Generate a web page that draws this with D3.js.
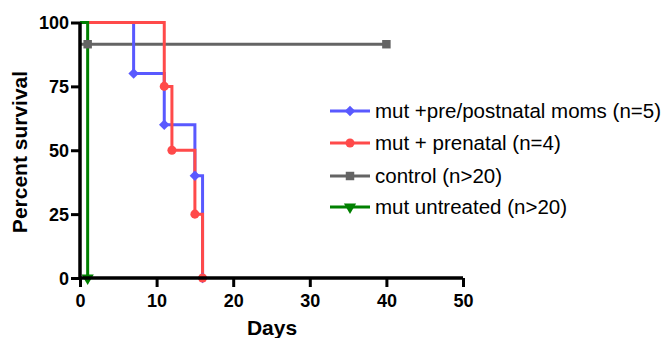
<!DOCTYPE html>
<html lang="en"><head>
<meta charset="utf-8">
<title>Percent survival</title>
<script src="https://cdnjs.cloudflare.com/ajax/libs/d3/7.8.5/d3.min.js"></script>
<style>
  body { margin: 0; background: #fff; }
  text { font-family: "Liberation Sans", Arial, sans-serif; }
  .axis text { font-weight: bold; font-size: 18px; fill: #000; }
</style>
</head>
<body>
<svg id="chart" width="665" height="338"></svg>
<script>
// survival curves: day of each step and the percent surviving after it
const seriesNames = ["mut +pre/postnatal moms (n=5)", "mut + prenatal (n=4)", "control (n>20)", "mut untreated (n>20)"]
const prePostDays = [0, 7, 11, 15, 16]
const prePostSurv = [100, 80, 60, 40, 0]
const prenatalDays = [0, 11, 12, 15, 16]
const prenatalSurv = [100, 75, 50, 25, 0]
const controlDays = [0, 1, 40]
const controlSurv = [91.5, 91.5, 91.5]
const untreatedDays = [0, 1]
const untreatedSurv = [100, 0]
const xTicks = [0, 10, 20, 30, 40, 50]
const yTicks = [0, 25, 50, 75, 100]

const colors = ["#5959ff", "#ff4a4a", "#646464", "#008000"]
// diamond is a square turned 45 degrees, triangle is turned upside down
const symbols = [d3.symbolSquare, d3.symbolCircle, d3.symbolSquare, d3.symbolTriangle]
const turns = [45, 0, 0, 180]
const markerSize = [55, 64, 72, 65]

const series = [
  {days: prePostDays, surv: prePostSurv},
  {days: prenatalDays, surv: prenatalSurv},
  {days: controlDays, surv: controlSurv},
  {days: untreatedDays, surv: untreatedSurv}
].map((s, i) => ({
  name: seriesNames[i],
  color: colors[i],
  symbol: symbols[i],
  pts: s.days.map((d, j) => ({day: d, surv: s.surv[j]}))
}))

const svg = d3.select("#chart")
const scales = {
  x: d3.scaleLinear().domain([0, 50]).range([80, 463]),
  y: d3.scaleLinear().domain([0, 100]).range([278, 22.5])
}

// draw order: control and untreated underneath the two treated curves
const order = [2, 0, 1, 3]
const line = d3.line()
  .x(d => scales.x(d.day))
  .y(d => scales.y(d.surv))
  .curve(d3.curveStepAfter)

function markerPath(i) {
  return d3.symbol().type(symbols[i]).size(markerSize[i])()
}

order.forEach(i => {
  let s = series[i]
  svg.append("path")
    .attr("d", line(s.pts))
    .attr("fill", "none")
    .attr("stroke", s.color)
    .attr("stroke-width", 3)
})

order.forEach(i => {
  let s = series[i]
  svg.append("g")
    .selectAll("path")
    .data(s.pts.slice(1))
    .join("path")
    .attr("d", markerPath(i))
    .attr("transform", d => `translate(${scales.x(d.day)},${scales.y(d.surv)}) rotate(${turns[i]})`)
    .attr("fill", s.color)
})

// axes
let xAxis = svg.append("g")
  .attr("class", "axis")
  .attr("transform", "translate(0,278)")
  .call(d3.axisBottom(scales.x).tickValues(xTicks).tickSize(9).tickPadding(7))
let yAxis = svg.append("g")
  .attr("class", "axis")
  .attr("transform", "translate(80,0)")
  .call(d3.axisLeft(scales.y).tickValues(yTicks).tickSize(9).tickPadding(2))
svg.selectAll(".axis .domain").attr("stroke-width", 3.5).attr("stroke", "#000")
svg.selectAll(".axis .tick line").attr("stroke-width", 3).attr("stroke", "#000")
xAxis.select(".domain").attr("d", "M80,0H463")
yAxis.select(".domain").attr("d", "M0,278V22.5")
yAxis.selectAll(".tick text").attr("dy", "0.36em")

svg.append("text")
  .attr("x", 272).attr("y", 335)
  .attr("text-anchor", "middle")
  .attr("font-weight", "bold")
  .attr("font-size", 21)
  .text("Days")

svg.append("text")
  .attr("transform", "translate(27,152) rotate(-90)")
  .attr("text-anchor", "middle")
  .attr("font-weight", "bold")
  .attr("font-size", 21)
  .text("Percent survival")

// legend
const legendY = [111, 143, 176, 207]
let legend = svg.append("g")
series.forEach((s, i) => {
  let g = legend.append("g").attr("transform", `translate(0,${legendY[i]})`)
  g.append("line")
    .attr("x1", 330).attr("x2", 370)
    .attr("stroke", s.color).attr("stroke-width", 3)
  g.append("path")
    .attr("d", markerPath(i))
    .attr("transform", `translate(350,0) rotate(${turns[i]})`)
    .attr("fill", s.color)
  g.append("text")
    .attr("x", 375).attr("dy", "0.35em")
    .attr("font-size", 20.5)
    .text(s.name)
})
</script>
</body>
</html>
